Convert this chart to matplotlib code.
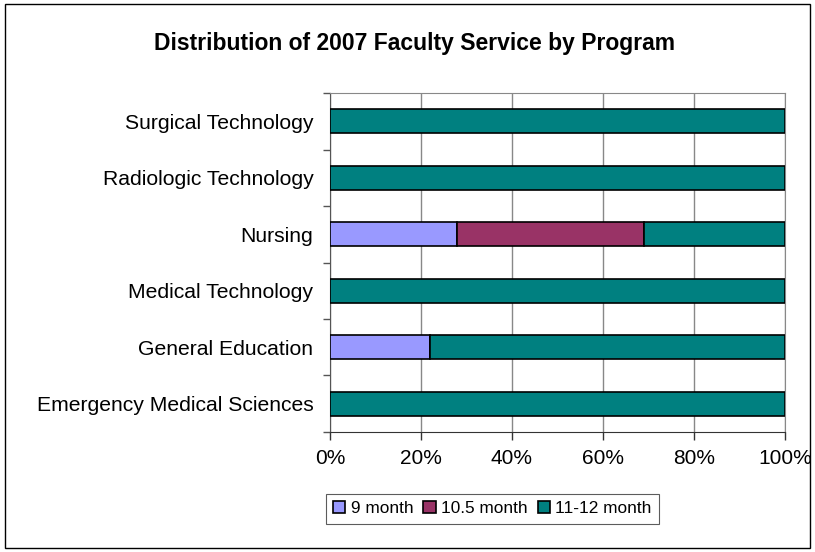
import matplotlib
matplotlib.use("Agg")
import matplotlib.pyplot as plt
from matplotlib.patches import Rectangle
from matplotlib.ticker import FixedLocator, PercentFormatter

programs = ["Emergency Medical Sciences", "General Education", "Medical Technology",
            "Nursing", "Radiologic Technology", "Surgical Technology"]
series = ["9 month", "10.5 month", "11-12 month"]
nine_month = [0, 22, 0, 28, 0, 0]
ten_half_month = [0, 0, 0, 41, 0, 0]
eleven_twelve_month = [100, 78, 100, 31, 100, 100]
colors = ["#9999FF", "#993366", "#008080"]

plt.rcParams["font.family"] = ["Liberation Sans", "DejaVu Sans"]

fig = plt.figure(figsize=(8.15, 5.52), dpi=100)
ax = fig.add_axes([0.405, 0.2174, 0.558, 0.6141])

fig.add_artist(Rectangle((0.006, 0.008), 0.988, 0.984, transform=fig.transFigure,
                         fill=False, edgecolor="black", linewidth=1.0))

y = range(len(programs))
left = [0] * len(programs)
for name, vals, c in zip(series, [nine_month, ten_half_month, eleven_twelve_month], colors):
    ax.barh(y, vals, left=left, height=0.42, color=c, edgecolor="black",
            linewidth=1.2, label=name, zorder=3)
    left = [a + b for a, b in zip(left, vals)]

ax.set_xlim(0, 100)
ax.set_ylim(-0.5, len(programs) - 0.5)
ax.set_xticks([0, 20, 40, 60, 80, 100])
ax.xaxis.set_major_formatter(PercentFormatter(decimals=0))
ax.set_yticks(list(y))
ax.set_yticklabels(programs)
ax.yaxis.set_minor_locator(FixedLocator([i + 0.5 for i in range(-1, len(programs))]))
ax.tick_params(axis="y", which="major", length=0, pad=12, labelsize=15.2)
ax.tick_params(axis="y", which="minor", length=5, width=1, color="#555555")
ax.tick_params(axis="x", length=6, width=1, labelsize=15, pad=6, color="#333333")
ax.grid(axis="x", color="#888888", linewidth=1, zorder=0)

for side in ["top", "right"]:
    ax.spines[side].set_color("#888888")
ax.spines["left"].set_color("#555555")
ax.spines["bottom"].set_color("#333333")

fig.text(0.509, 0.922, "Distribution of 2007 Faculty Service by Program",
         ha="center", va="center", fontsize=16.5, fontweight="bold")

leg = ax.legend(loc="center", bbox_to_anchor=(0.604, 0.078), bbox_transform=fig.transFigure,
                ncol=3, frameon=True, fancybox=False, edgecolor="#333333", fontsize=12.4,
                handlelength=0.7, handleheight=0.7, handletextpad=0.3, columnspacing=0.6,
                borderpad=0.45)
leg.get_frame().set_linewidth(0.8)

fig.savefig("out.png", dpi=100)
